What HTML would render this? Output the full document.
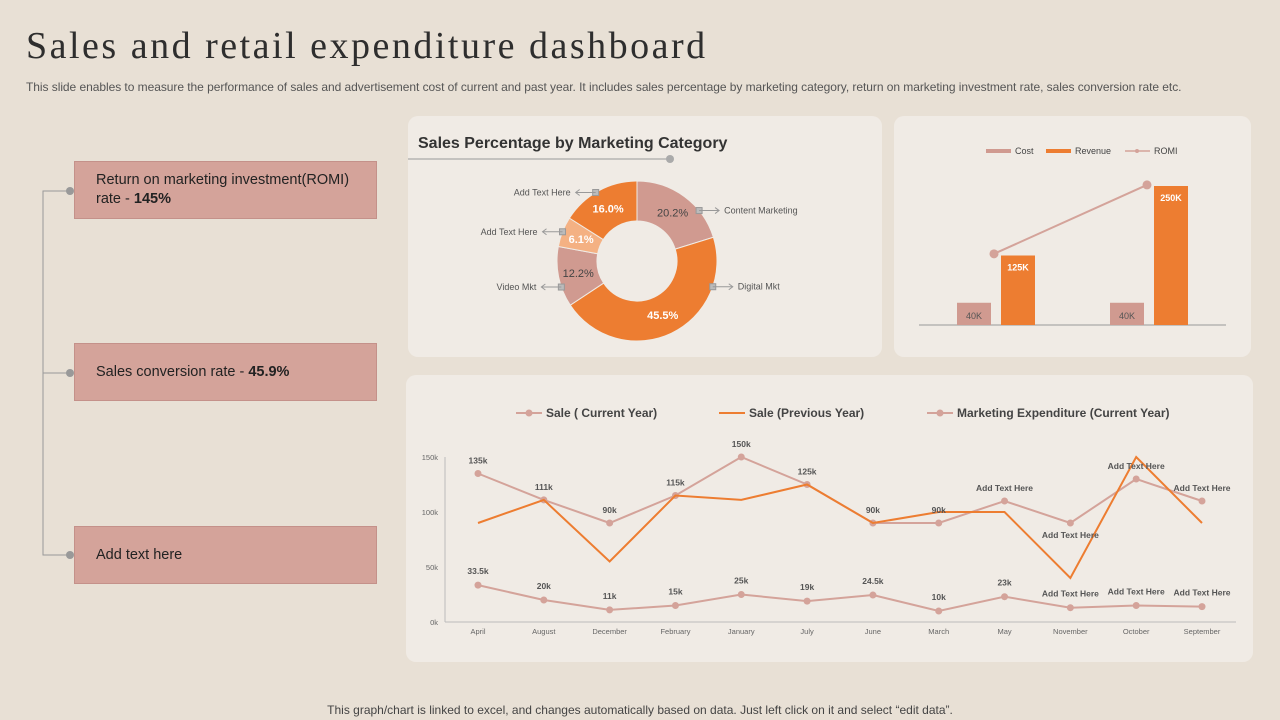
<!DOCTYPE html>
<html><head><meta charset="utf-8"><style>
body{margin:0;width:1280px;height:720px;background:#e8e0d5;font-family:"Liberation Sans",sans-serif;position:relative;overflow:hidden}
.abs{position:absolute}
h1{position:absolute;left:26px;top:24px;margin:0;font-family:"Liberation Serif",serif;font-weight:normal;font-size:38px;color:#2e2e2e;letter-spacing:2.5px}
.sub{left:26px;top:80px;font-size:12px;color:#555;letter-spacing:-0.05px}
.panel{background:#f0ebe5;border-radius:10px}
.box{background:#d4a39a;border:1px solid #c4918a;box-sizing:border-box;font-size:14.5px;color:#222;padding-left:21px;display:flex;align-items:center}
.foot{left:0;width:1280px;text-align:center;top:703px;font-size:12px;color:#444}
</style></head><body>
<h1>Sales and retail expenditure dashboard</h1>
<div class="abs sub">This slide enables to measure the performance of sales and advertisement cost of current and past year. It includes sales percentage by marketing category, return on marketing investment rate, sales conversion rate etc.</div>

<svg class="abs" style="left:0;top:0" width="400" height="720">
<path d="M70 191 H43 V555 H70 M43 373 H70" fill="none" stroke="#999" stroke-width="1"/>
<circle cx="70" cy="191" r="4" fill="#999"/><circle cx="70" cy="373" r="4" fill="#999"/><circle cx="70" cy="555" r="4" fill="#999"/>
</svg>
<div class="abs box" style="left:74px;top:161px;width:303px;height:58px;line-height:19px"><div>Return on marketing investment(ROMI)<br>rate - <b>145%</b></div></div>
<div class="abs box" style="left:74px;top:343px;width:303px;height:58px"><div>Sales conversion rate - <b>45.9%</b></div></div>
<div class="abs box" style="left:74px;top:526px;width:303px;height:58px"><div>Add text here</div></div>

<div class="abs panel" style="left:408px;top:116px;width:474px;height:241px"></div>
<div class="abs panel" style="left:894px;top:116px;width:357px;height:241px"></div>
<div class="abs panel" style="left:406px;top:375px;width:847px;height:287px"></div>

<svg class="abs" style="left:0;top:0" width="1280" height="720" id="charts" font-family="Liberation Sans, sans-serif">
<text x="418" y="148" font-size="16" font-weight="bold" fill="#333">Sales Percentage by Marketing Category</text>
<line x1="408" y1="159" x2="670" y2="159" stroke="#999"/><circle cx="670" cy="159" r="4" fill="#aaa"/>
<g id="donut"></g><g id="bars"></g><g id="lines"></g>
</svg>
<div class="abs foot">This graph/chart is linked to excel, and changes automatically based on data. Just left click on it and select “edit data”.</div>

<script>
const pieLabels=["Content Marketing","Digital Mkt","Video Mkt","Add Text Here","Add Text Here"];
const pieValues=[20.2,45.5,12.2,6.1,16.0];
const pieColors=["#d09a90","#ed7d31","#d09a90","#f4b183","#ed7d31"];
const pieTextCol=["#444","#fff","#444","#fff","#fff"];
const calloutFrac=[0.7,0.22,0.33,0.5,0.46];

const barCats=["2022","2023"];
const costVals=[40,40];
const revVals=[125,250];
const romiVals=[128,252];

const months=["April","August","December","February","January","July","June","March","May","November","October","September"];
const saleCur=[135,111,90,115,150,125,90,90,110,90,130,110];
const salePrev=[90,111,55,115,111,125,90,100,100,40,150,90];
const mktExp=[33.5,20,11,15,25,19,24.5,10,23,13,15,14];
const saleCurLbl=["135k","111k","90k","115k","150k","125k","90k","90k","Add Text Here","Add Text Here","Add Text Here","Add Text Here"];
const mktLbl=["33.5k","20k","11k","15k","25k","19k","24.5k","10k","23k","Add Text Here","Add Text Here","Add Text Here"];
const yTicks=[0,50,100,150];

const NS="http://www.w3.org/2000/svg";
function mk(p,t,a,txt){const e=document.createElementNS(NS,t);for(const k in a)e.setAttribute(k,a[k]);if(txt!==undefined)e.textContent=txt;p.appendChild(e);return e;}

// donut
const dg=document.getElementById('donut');const cx=637,cy=261,R=80,r=40;
const tot=pieValues.reduce((a,b)=>a+b,0);let acc=0;
pieValues.forEach((v,i)=>{
  const a0=acc/tot*2*Math.PI;acc+=v;const a1=acc/tot*2*Math.PI;
  const P=(rr,a)=>[cx+rr*Math.sin(a),cy-rr*Math.cos(a)];
  const [x0,y0]=P(R,a0),[x1,y1]=P(R,a1),[x2,y2]=P(r,a1),[x3,y3]=P(r,a0);const lg=(a1-a0)>Math.PI?1:0;
  const s=mk(dg,'path',{d:`M${x0} ${y0}A${R} ${R} 0 ${lg} 1 ${x1} ${y1}L${x2} ${y2}A${r} ${r} 0 ${lg} 0 ${x3} ${y3}Z`,fill:pieColors[i],stroke:"#f0ebe5","stroke-width":1});
  
  
  const am=(a0+a1)/2;const [lx,ly]=P(60,am);
  const t=mk(dg,'text',{x:lx,y:ly+4,"text-anchor":"middle","font-size":11,"font-weight":pieTextCol[i]=="#fff"?"bold":"normal",fill:pieTextCol[i]},v.toFixed(1)+"%");
  
  
  const ac=a0+(a1-a0)*calloutFrac[i];
  const [qx,qy]=P(R,ac);const right=Math.sin(ac)>0;
  mk(dg,'rect',{x:qx-3,y:qy-3,width:6,height:6,fill:"#bbb",stroke:"#999"});
  const ax=right?qx+20:qx-20;
  mk(dg,'line',{x1:qx,y1:qy,x2:ax,y2:qy,stroke:"#999"});
  mk(dg,'path',{d:right?`M${ax-4} ${qy-3}L${ax} ${qy}L${ax-4} ${qy+3}`:`M${ax+4} ${qy-3}L${ax} ${qy}L${ax+4} ${qy+3}`,fill:"none",stroke:"#999"});
  const ct=mk(dg,'text',{x:right?ax+5:ax-5,y:qy+3,"text-anchor":right?"start":"end","font-size":9,fill:"#555"},pieLabels[i]);
  
  
});

// bars
const bg=document.getElementById('bars');const base=325,ks=0.556;const by=v=>base-v*ks;const gx=[957,1110];
mk(bg,'line',{x1:919,y1:base,x2:1226,y2:base,stroke:"#999"});
barCats.forEach((c,i)=>{
  const b1=mk(bg,'rect',{x:gx[i],y:by(costVals[i]),width:34,height:costVals[i]*ks,fill:"#d09a90"});
  
  
  mk(bg,'text',{x:gx[i]+17,y:by(costVals[i])+16,"text-anchor":"middle","font-size":9,fill:"#555"},costVals[i]+"K");
  const b2=mk(bg,'rect',{x:gx[i]+44,y:by(revVals[i]),width:34,height:revVals[i]*ks,fill:"#ed7d31"});
  
  
  mk(bg,'text',{x:gx[i]+61,y:by(revVals[i])+15,"text-anchor":"middle","font-size":9,"font-weight":"bold",fill:"#fff"},revVals[i]+"K");
});
mk(bg,'polyline',{points:romiVals.map((v,i)=>`${gx[i]+37},${by(v)}`).join(' '),fill:"none",stroke:"#d4a39a","stroke-width":2});
romiVals.forEach((v,i)=>{const p=mk(bg,'circle',{cx:gx[i]+37,cy:by(v),r:4.5,fill:"#d4a39a"});
  
  });
mk(bg,'rect',{x:986,y:149,width:25,height:4,fill:"#d09a90"});mk(bg,'text',{x:1015,y:154,"font-size":9,fill:"#444"},"Cost");
mk(bg,'rect',{x:1046,y:149,width:25,height:4,fill:"#ed7d31"});mk(bg,'text',{x:1075,y:154,"font-size":9,fill:"#444"},"Revenue");
mk(bg,'line',{x1:1125,y1:151,x2:1150,y2:151,stroke:"#d4a39a","stroke-width":1.5});mk(bg,'circle',{cx:1137,cy:151,r:2,fill:"#d4a39a"});
mk(bg,'text',{x:1154,y:154,"font-size":9,fill:"#444"},"ROMI");

// lines
const lg=document.getElementById('lines');const X0=478,DX=(1202-478)/11,Y0=622,YS=1.1;
const xp=i=>X0+i*DX, yp=v=>Y0-v*YS;
mk(lg,'line',{x1:445,y1:457,x2:445,y2:Y0,stroke:"#bbb"});mk(lg,'line',{x1:445,y1:Y0,x2:1236,y2:Y0,stroke:"#bbb"});
yTicks.forEach(t=>mk(lg,'text',{x:438,y:yp(t)+3,"text-anchor":"end","font-size":7.5,fill:"#666"},t+"k"));
months.forEach((m,i)=>{const t=mk(lg,'text',{x:xp(i),y:634,"text-anchor":"middle","font-size":7.5,fill:"#666"},m);
  
  });
function series(vals,col,w,dots,name){
  const pl=mk(lg,'polyline',{points:vals.map((v,i)=>`${xp(i)},${yp(v)}`).join(' '),fill:"none",stroke:col,"stroke-width":w});
  
  
  if(dots)vals.forEach((v,i)=>mk(lg,'circle',{cx:xp(i),cy:yp(v),r:3.5,fill:col}));
}
series(saleCur,"#d4a39a",2,true,'sale-current-line');
series(salePrev,"#ed7d31",2,false,'sale-previous-line');
series(mktExp,"#d4a39a",2,true,'marketing-expenditure-line');
saleCur.forEach((v,i)=>mk(lg,'text',{x:xp(i),y:yp(v)-10+(i==9?25:0),"text-anchor":"middle","font-size":8.5,"font-weight":"bold",fill:"#555"},saleCurLbl[i]));
mktExp.forEach((v,i)=>mk(lg,'text',{x:xp(i),y:yp(v)-11,"text-anchor":"middle","font-size":8.5,"font-weight":"bold",fill:"#555"},mktLbl[i]));
const leg=[["Sale ( Current Year)","#d4a39a",true,516],["Sale (Previous Year)","#ed7d31",false,719],["Marketing Expenditure (Current Year)","#d4a39a",true,927]];
leg.forEach(l=>{mk(lg,'line',{x1:l[3],y1:413,x2:l[3]+26,y2:413,stroke:l[1],"stroke-width":2});
  if(l[2])mk(lg,'circle',{cx:l[3]+13,cy:413,r:3.5,fill:l[1]});
  const t=mk(lg,'text',{x:l[3]+30,y:417,"font-size":12,"font-weight":"bold",fill:"#444"},l[0]);
  
  });
</script>
</body></html>
